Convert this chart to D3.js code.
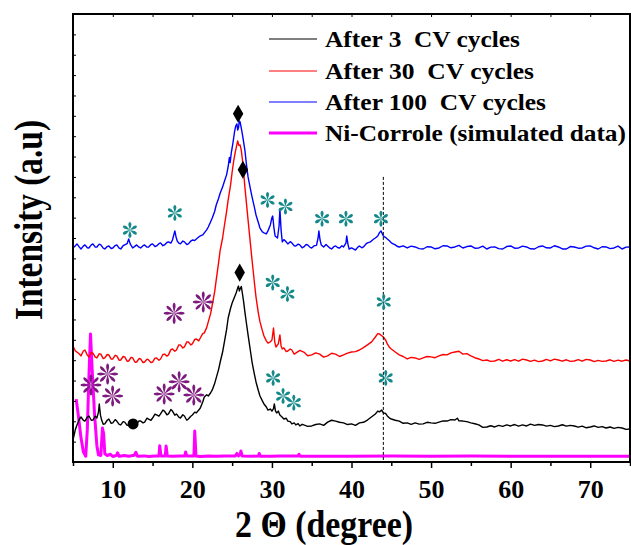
<!DOCTYPE html>
<html>
<head>
<meta charset="utf-8">
<script src="https://cdn.jsdelivr.net/npm/d3@7"></script>
<style>
  html, body { margin: 0; padding: 0; background: #fff; }
  svg { display: block; }
  text { font-family: "Liberation Serif", "Times New Roman", serif; font-weight: bold; fill: #000; }
</style>
</head>
<body>
<svg id="chart" width="631" height="545"></svg>
<script>
// ---- data: 2θ (degree) vs intensity (a.u.), stacked XRD patterns ----
const xTicksMajor = [10, 20, 30, 40, 50, 60, 70];
const xTicksMinor = [5, 15, 25, 35, 45, 55, 65, 75];

const after3 = [
  [5.0,1.08],[5.3,1.60],[5.5,1.82],[5.8,2.10],[6.0,2.21],[6.3,2.05],[6.5,2.01],[6.8,2.20],[7.0,2.26],[7.3,2.05],[7.5,2.06],[7.8,2.25],
  [8.0,2.16],[8.2,2.45],[8.3,2.85],[8.45,2.30],[8.6,2.06],[8.8,1.85],[9.0,1.87],[9.3,2.05],[9.5,2.11],[9.8,1.90],[10.0,1.92],
  [10.3,2.08],[10.5,2.01],[10.8,1.85],[11.0,1.82],[11.3,1.98],[11.5,1.96],[11.8,1.80],[12.0,1.82],[12.3,1.95],[12.5,1.92],
  [12.8,1.80],[13.0,1.87],[13.3,2.02],[13.5,2.01],[13.8,1.92],[14.0,1.96],[14.3,2.15],[14.5,2.11],[14.8,2.05],[15.0,2.16],
  [15.3,2.35],[15.5,2.31],[15.8,2.25],[16.0,2.36],[16.3,2.55],[16.5,2.50],[16.8,2.32],[17.0,2.36],[17.3,2.58],[17.5,2.50],
  [17.8,2.30],[18.0,2.36],[18.3,2.20],[18.5,2.16],[18.8,2.32],[19.0,2.26],[19.3,2.05],[19.5,2.11],[19.8,2.25],[20.0,2.31],
  [20.3,2.45],[20.5,2.41],[20.8,2.55],[21.0,2.65],[21.3,2.95],[21.5,3.19],[21.8,3.30],[22.0,3.24],[22.3,3.40],[22.5,3.54],
  [22.8,3.85],[23.0,4.13],[23.3,4.55],[23.5,4.91],[23.8,5.40],[24.0,5.84],[24.3,6.50],[24.5,7.07],[24.8,7.55],[25.0,7.81],
  [25.3,8.10],[25.5,8.30],[25.7,8.55],[25.8,8.64],[25.9,8.40],[26.0,8.50],[26.15,8.62],[26.3,8.25],[26.45,7.85],[26.6,7.37],
  [26.8,6.80],[27.0,6.24],[27.3,5.45],[27.5,4.91],[27.8,4.30],[28.0,3.93],[28.3,3.50],[28.5,3.24],[28.8,3.00],[29.0,2.85],
  [29.3,2.70],[29.5,2.55],[29.8,2.60],[30.0,2.50],[30.2,2.62],[30.3,2.85],[30.45,2.50],[30.6,2.41],[30.8,2.50],[31.0,2.31],
  [31.3,2.20],[31.5,2.11],[31.8,2.15],[32.0,2.01],[32.3,1.98],[32.5,1.87],[32.8,1.92],[33.0,1.82],[33.3,1.88],[33.5,1.77],
  [33.8,1.85],[34.0,1.82],[34.5,1.75],[35.0,1.77],[35.5,1.84],[36.0,1.87],[36.5,1.80],[37.0,1.96],[37.5,2.05],[38.0,2.01],
  [38.5,1.95],[39.0,1.92],[39.5,1.84],[40.0,1.87],[40.5,1.80],[41.0,1.92],[41.5,1.95],[42.0,2.06],[42.5,2.21],[43.0,2.36],
  [43.3,2.50],[43.5,2.46],[43.8,2.55],[44.0,2.41],[44.3,2.38],[44.5,2.26],[44.8,2.15],[45.0,2.11],[45.5,2.05],[46.0,2.01],
  [46.5,1.90],[47.0,1.92],[47.5,1.85],[48.0,1.92],[48.5,1.86],[49.0,1.87],[49.5,1.95],[50.0,1.92],[50.5,1.90],[51.0,1.96],
  [51.5,2.02],[52.0,2.01],[52.5,2.08],[53.0,2.06],[53.3,2.15],[53.5,2.02],[54.0,2.01],[54.5,1.98],[55.0,1.92],[55.5,1.88],
  [56.0,1.82],[56.5,1.70],[57.0,1.72],[57.5,1.78],[58.0,1.72],[58.5,1.80],[59.0,1.75],[59.5,1.82],[60.0,1.77],[60.5,1.84],
  [61.0,1.76],[61.5,1.82],[62.0,1.77],[62.5,1.86],[63.0,1.80],[63.5,1.84],[64.0,1.82],[64.5,1.76],[65.0,1.80],[65.5,1.74],
  [66.0,1.77],[66.5,1.83],[67.0,1.76],[67.5,1.80],[68.0,1.77],[68.5,1.71],[69.0,1.76],[69.5,1.68],[70.0,1.72],[70.5,1.77],
  [71.0,1.70],[71.5,1.74],[72.0,1.67],[72.5,1.72],[73.0,1.65],[73.5,1.70],[74.0,1.67],[74.5,1.60],[75.0,1.62]
];

const after30 = [
  [5.0,5.70],[5.3,5.45],[5.5,5.40],[5.8,5.30],[6.0,5.21],[6.3,5.45],[6.5,5.50],[6.8,5.25],[7.0,5.16],[7.3,5.38],[7.5,5.35],
  [7.8,5.15],[8.0,5.11],[8.3,5.32],[8.5,5.30],[8.8,5.08],[9.0,5.11],[9.3,5.28],[9.5,5.26],[9.8,5.05],[10.0,5.06],[10.3,5.24],
  [10.5,5.21],[10.8,5.00],[11.0,5.01],[11.3,5.18],[11.5,5.16],[11.8,4.95],[12.0,4.96],[12.3,5.14],[12.5,5.11],[12.8,4.90],
  [13.0,4.91],[13.3,5.08],[13.5,5.06],[13.8,4.88],[14.0,4.91],[14.3,5.05],[14.5,5.01],[14.8,4.88],[15.0,4.91],[15.3,5.10],
  [15.5,5.11],[15.8,5.00],[16.0,5.06],[16.3,5.28],[16.5,5.30],[16.8,5.20],[17.0,5.26],[17.3,5.52],[17.5,5.55],[17.8,5.44],
  [18.0,5.50],[18.3,5.75],[18.5,5.75],[18.8,5.60],[19.0,5.65],[19.3,5.90],[19.5,5.89],[19.8,5.75],[20.0,5.80],[20.3,6.02],
  [20.5,6.04],[20.8,5.95],[21.0,6.09],[21.3,6.30],[21.5,6.34],[21.8,6.60],[22.0,6.88],[22.3,7.30],[22.5,7.71],[22.8,8.35],
  [23.0,8.94],[23.3,9.80],[23.5,10.41],[23.8,11.00],[24.0,11.54],[24.3,12.30],[24.5,12.87],[24.8,13.60],[25.0,14.24],
  [25.2,14.80],[25.4,15.23],[25.55,15.50],[25.7,15.77],[25.85,15.55],[26.0,15.57],[26.15,15.30],[26.3,14.83],[26.45,14.20],
  [26.6,13.51],[26.8,12.70],[27.0,11.89],[27.3,10.70],[27.5,9.92],[27.8,8.80],[28.0,8.10],[28.3,7.30],[28.5,6.88],[28.8,6.45],
  [29.0,6.19],[29.3,5.95],[29.5,5.84],[29.8,5.90],[30.0,5.99],[30.2,6.58],[30.35,5.90],[30.5,5.65],[30.8,5.80],[31.0,6.24],
  [31.15,5.70],[31.3,5.55],[31.5,5.60],[31.8,5.42],[32.0,5.45],[32.3,5.55],[32.5,5.50],[32.8,5.30],[33.0,5.35],[33.5,5.48],
  [34.0,5.40],[34.5,5.22],[35.0,5.26],[35.5,5.36],[36.0,5.30],[36.5,5.15],[37.0,5.21],[37.5,5.34],[38.0,5.30],[38.5,5.18],
  [39.0,5.26],[39.5,5.35],[40.0,5.40],[40.5,5.42],[41.0,5.50],[41.5,5.62],[42.0,5.75],[42.5,5.89],[43.0,6.14],[43.3,6.30],
  [43.5,6.29],[43.8,6.20],[44.0,6.14],[44.3,5.98],[44.5,5.80],[44.8,5.62],[45.0,5.55],[45.5,5.40],[46.0,5.26],[46.5,5.18],
  [47.0,5.06],[47.5,5.14],[48.0,5.11],[48.5,5.04],[49.0,5.11],[49.5,5.18],[50.0,5.16],[50.5,5.12],[51.0,5.21],[51.5,5.28],
  [52.0,5.26],[52.5,5.36],[53.0,5.40],[53.5,5.44],[54.0,5.30],[54.5,5.32],[55.0,5.21],[55.5,5.12],[56.0,5.06],[56.5,4.98],
  [57.0,5.01],[57.5,4.94],[58.0,4.96],[58.5,5.04],[59.0,4.95],[59.5,5.02],[60.0,4.96],[60.5,5.03],[61.0,4.95],[61.5,5.05],
  [62.0,5.01],[62.5,4.94],[63.0,5.00],[63.5,4.93],[64.0,4.96],[64.5,5.04],[65.0,4.97],[65.5,5.05],[66.0,5.01],[66.5,4.95],
  [67.0,5.02],[67.5,4.94],[68.0,4.96],[68.5,5.03],[69.0,4.95],[69.5,5.04],[70.0,5.01],[70.5,4.93],[71.0,4.99],[71.5,4.94],
  [72.0,4.96],[72.5,5.02],[73.0,4.94],[73.5,5.00],[74.0,4.95],[74.5,5.01],[75.0,4.96]
];

const after100 = [
  [5.0,10.51],[5.3,10.62],[5.5,10.71],[5.8,10.55],[6.0,10.46],[6.3,10.60],[6.5,10.66],[6.8,10.52],[7.0,10.51],[7.3,10.66],
  [7.5,10.71],[7.8,10.55],[8.0,10.56],[8.3,10.70],[8.5,10.66],[8.8,10.50],[9.0,10.46],[9.3,10.58],[9.5,10.61],[9.8,10.48],
  [10.0,10.51],[10.3,10.63],[10.5,10.66],[10.8,10.50],[11.0,10.46],[11.3,10.62],[11.5,10.66],[11.8,10.72],[12.0,10.95],
  [12.2,10.70],[12.5,10.51],[12.8,10.60],[13.0,10.66],[13.3,10.55],[13.5,10.51],[13.8,10.62],[14.0,10.66],[14.3,10.55],
  [14.5,10.56],[14.8,10.68],[15.0,10.71],[15.3,10.58],[15.5,10.61],[15.8,10.72],[16.0,10.76],[16.3,10.62],[16.5,10.66],
  [16.8,10.78],[17.0,10.81],[17.3,10.75],[17.5,10.90],[17.7,11.20],[17.8,11.35],[17.95,11.05],[18.1,10.85],[18.3,10.75],
  [18.5,10.71],[18.8,10.85],[19.0,10.81],[19.3,10.68],[19.5,10.71],[19.8,10.85],[20.0,10.90],[20.3,10.88],[20.5,10.95],
  [20.8,11.05],[21.0,11.10],[21.3,11.15],[21.5,11.25],[21.8,11.40],[22.0,11.54],[22.3,11.80],[22.5,11.98],[22.8,12.30],
  [23.0,12.62],[23.3,12.95],[23.5,13.21],[23.8,13.50],[24.0,13.75],[24.3,14.10],[24.5,14.50],[24.65,14.95],[24.75,14.70],
  [24.9,15.20],[25.0,15.42],[25.15,15.80],[25.3,16.21],[25.45,16.50],[25.6,16.60],[25.7,16.30],[25.8,16.41],[25.9,16.75],
  [26.0,16.70],[26.15,16.40],[26.3,16.06],[26.45,15.70],[26.6,15.32],[26.8,14.60],[27.0,14.00],[27.3,13.40],[27.5,13.02],
  [27.8,12.50],[28.0,12.13],[28.3,11.75],[28.5,11.49],[28.8,11.30],[29.0,11.25],[29.3,11.20],[29.5,11.35],[29.8,11.64],
  [30.0,12.00],[30.1,12.08],[30.25,11.50],[30.4,11.10],[30.7,11.00],[30.9,11.60],[31.0,12.43],[31.15,11.40],[31.3,10.81],
  [31.5,10.92],[31.7,10.85],[32.0,10.71],[32.3,10.82],[32.5,10.76],[32.8,10.62],[33.0,10.61],[33.3,10.70],[33.5,10.66],
  [33.8,10.52],[34.0,10.56],[34.3,10.68],[34.5,10.66],[34.8,10.54],[35.0,10.51],[35.3,10.62],[35.6,10.64],[35.8,11.00],
  [35.9,11.35],[36.05,10.90],[36.2,10.66],[36.5,10.56],[36.8,10.68],[37.0,10.61],[37.3,10.50],[37.5,10.46],[37.8,10.58],
  [38.0,10.61],[38.3,10.52],[38.5,10.51],[38.8,10.62],[39.0,10.56],[39.3,10.75],[39.4,11.10],[39.55,10.70],[39.7,10.46],
  [40.0,10.51],[40.3,10.45],[40.5,10.41],[40.8,10.55],[41.0,10.61],[41.3,10.52],[41.5,10.56],[41.8,10.70],[42.0,10.76],
  [42.3,10.80],[42.5,10.85],[42.8,10.95],[43.0,11.00],[43.3,11.10],[43.5,11.25],[43.7,11.35],[44.0,11.10],[44.3,11.02],
  [44.5,10.95],[44.8,10.85],[45.0,10.76],[45.3,10.70],[45.5,10.66],[45.8,10.58],[46.0,10.56],[46.5,10.61],[47.0,10.51],
  [47.5,10.60],[48.0,10.56],[48.5,10.48],[49.0,10.46],[49.5,10.57],[50.0,10.56],[50.5,10.47],[51.0,10.51],[51.5,10.62],
  [52.0,10.61],[52.5,10.52],[53.0,10.56],[53.5,10.64],[54.0,10.51],[54.5,10.58],[55.0,10.61],[55.5,10.50],[56.0,10.51],
  [56.5,10.60],[57.0,10.46],[57.5,10.55],[58.0,10.56],[58.5,10.48],[59.0,10.46],[59.5,10.58],[60.0,10.61],[60.5,10.50],
  [61.0,10.51],[61.5,10.60],[62.0,10.56],[62.5,10.47],[63.0,10.46],[63.5,10.57],[64.0,10.61],[64.5,10.52],[65.0,10.51],
  [65.5,10.62],[66.0,10.56],[66.5,10.46],[67.0,10.46],[67.5,10.58],[68.0,10.56],[68.5,10.50],[69.0,10.51],[69.5,10.60],
  [70.0,10.61],[70.5,10.52],[71.0,10.46],[71.5,10.57],[72.0,10.56],[72.5,10.48],[73.0,10.51],[73.5,10.60],[74.0,10.46],
  [74.5,10.55],[75.0,10.56]
];

const niCorroleSim = [
  [5.4,3.09],[5.7,2.20],[6.0,1.20],[6.3,0.50],[6.6,0.28],[6.8,1.60],[7.0,4.20],[7.2,6.29],[7.4,4.60],[7.7,2.40],[8.0,0.80],
  [8.2,0.35],[8.5,0.32],[8.6,1.00],[8.7,1.67],[8.85,1.40],[9.0,0.40],[9.3,0.32],[9.7,0.38],[10.0,0.27],[10.5,0.33],[10.6,0.45],
  [10.8,0.28],[11.5,0.32],[12.0,0.28],[12.7,0.33],[12.9,0.48],[13.1,0.28],[14.0,0.30],[14.5,0.27],[15.3,0.30],[15.8,0.30],
  [15.9,0.80],[16.05,0.30],[16.6,0.30],[16.7,0.79],[16.85,0.30],[17.5,0.28],[18.5,0.30],[19.05,0.30],[19.15,0.49],[19.3,0.30],
  [20.2,0.30],[20.3,1.52],[20.45,0.30],[21.0,0.27],[22.0,0.30],[23.0,0.28],[24.0,0.30],[25.4,0.30],[25.6,0.42],[25.8,0.30],
  [26.0,0.36],[26.1,0.54],[26.25,0.30],[27.5,0.28],[28.3,0.30],[28.4,0.42],[28.55,0.28],[30.0,0.28],[31.0,0.30],[33.3,0.30],
  [33.4,0.38],[33.55,0.28],[36.0,0.28],[40.0,0.28],[45.0,0.29],[50.0,0.28],[55.0,0.29],[60.0,0.28],[65.0,0.28],[70.0,0.28],
  [75.0,0.28]
];

// peak markers
const graphiteMarks = [[25.95, 9.30], [26.35, 14.35], [25.75, 17.10]];      // black diamonds
const ringMarks = [[12.55, 1.87]];                                             // filled circle
const purpleMarks = [[7.26,3.78],[9.35,4.32],[9.98,3.24],[16.46,3.34],[18.34,3.94],[20.18,3.29],[17.71,7.30],[21.37,7.86]];
const tealMarks = [
  [12.15,11.39],[17.80,12.23],[29.45,12.87],[31.70,12.55],[36.30,11.95],[39.30,11.95],[43.70,11.95],
  [30.10,8.82],[31.95,8.25],[44.05,7.86],
  [30.15,4.13],[31.40,3.24],[32.75,2.91],[44.30,4.13]
];
const markerLine = 44.0;

const seriesNames = ["After 3  CV cycles", "After 30  CV cycles", "After 100  CV cycles", "Ni-Corrole (simulated data)"];
const seriesColors = ["#000000", "#ff0000", "#0000ff", "#ff00ff"];
const seriesWidths = [1.4, 1.4, 1.4, 3];

// ---- layout ----
const svg = d3.select("#chart");
const plot = { left: 73, top: 14, right: 630, bottom: 462 };

const x = d3.scaleLinear().domain([5, 75]).range([plot.left, plot.right]);
const y = d3.scaleLinear().domain([0, 22]).range([plot.bottom, plot.top]);

// clip curves to the frame
svg.append("defs").append("clipPath").attr("id", "clip")
  .append("rect").attr("x", plot.left).attr("y", plot.top)
  .attr("width", plot.right - plot.left).attr("height", plot.bottom - plot.top);

const line = d3.line().x(d => x(d[0])).y(d => y(d[1]));

const curves = svg.append("g").attr("clip-path", "url(#clip)");
const allSeries = [after3, after30, after100, niCorroleSim];
// draw simulated pattern first so the measured ones sit on top
[3, 0, 1, 2].forEach(i => {
  curves.append("path").datum(allSeries[i])
    .attr("d", line).attr("fill", "none")
    .attr("stroke", seriesColors[i]).attr("stroke-width", seriesWidths[i])
    .attr("stroke-linejoin", "round");
});

// dashed reference line at 44°
svg.append("line")
  .attr("x1", x(markerLine)).attr("x2", x(markerLine))
  .attr("y1", y(14.0)).attr("y2", y(0))
  .attr("stroke", "#000").attr("stroke-width", 1).attr("stroke-dasharray", "3,2");

// ---- axes ----
const gx = svg.append("g").attr("transform", `translate(0,${plot.bottom})`);
gx.call(d3.axisBottom(x).tickValues(xTicksMajor).tickSize(6).tickPadding(12).tickFormat(d3.format("d")));
gx.append("g").call(d3.axisBottom(x).tickValues(xTicksMinor).tickSize(4).tickFormat(""));
gx.selectAll(".domain").remove();
gx.selectAll("line").attr("stroke", "#000").attr("stroke-width", 1.5);
gx.selectAll("text").attr("font-size", 26).attr("font-family", "Liberation Serif").attr("font-weight", "bold").attr("fill", "#000");

const gTop = svg.append("g").attr("transform", `translate(0,${plot.top})`);
gTop.call(d3.axisBottom(x).tickValues(xTicksMajor.concat(xTicksMinor)).tickSize(3).tickFormat(""));
gTop.selectAll(".domain").remove();
gTop.selectAll("line").attr("stroke", "#000").attr("stroke-width", 1);

const gy = svg.append("g").attr("transform", `translate(${plot.left},0)`);
gy.call(d3.axisRight(y).ticks(22).tickSize(3).tickFormat(""));
gy.selectAll(".domain").remove();
gy.selectAll("line").attr("stroke", "#000").attr("stroke-width", 1);

// frame
svg.append("rect")
  .attr("x", plot.left).attr("y", plot.top)
  .attr("width", plot.right - plot.left).attr("height", plot.bottom - plot.top)
  .attr("fill", "none").attr("stroke", "#000").attr("stroke-width", 2);

// axis titles
svg.append("text")
  .attr("x", 235).attr("y", 537)
  .attr("font-size", 37)
  .attr("textLength", 178).attr("lengthAdjust", "spacingAndGlyphs")
  .text("2 Θ (degree)");

svg.append("text")
  .attr("transform", "translate(42,220) rotate(-90)")
  .attr("text-anchor", "middle")
  .attr("font-size", 41)
  .attr("textLength", 200).attr("lengthAdjust", "spacingAndGlyphs")
  .text("Intensity (a.u)");

// ---- markers ----
const diamond = d3.symbol().type(d3.symbolDiamond).size(95);
svg.append("g").selectAll("path").data(graphiteMarks).join("path")
  .attr("transform", d => `translate(${x(d[0])},${y(d[1])})`)
  .attr("d", diamond).attr("fill", "#000");

svg.append("g").selectAll("circle").data(ringMarks).join("circle")
  .attr("cx", d => x(d[0])).attr("cy", d => y(d[1])).attr("r", 5.5).attr("fill", "#000");

// teardrop-armed asterisk
function asteriskPath(r, arms, w) {
  let p = "";
  for (let k = 0; k < arms; k++) {
    const a = (k * Math.PI * 2) / arms - Math.PI / 2;
    const ca = Math.cos(a), sa = Math.sin(a);
    const px = -sa, py = ca;
    const tip = [ca * r, sa * r];
    const mid = [ca * r * 0.65, sa * r * 0.65];
    p += `M0,0 L${mid[0] + px * w},${mid[1] + py * w} Q${tip[0] + px * w * 0.9},${tip[1] + py * w * 0.9} ${tip[0]},${tip[1]} Q${tip[0] - px * w * 0.9},${tip[1] - py * w * 0.9} ${mid[0] - px * w},${mid[1] - py * w} Z`;
  }
  return p;
}

svg.append("g").selectAll("path").data(purpleMarks).join("path")
  .attr("transform", d => `translate(${x(d[0])},${y(d[1])})`)
  .attr("d", asteriskPath(10.5, 8, 1.5)).attr("fill", "#7d1a7d");

svg.append("g").selectAll("path").data(tealMarks).join("path")
  .attr("transform", d => `translate(${x(d[0])},${y(d[1])})`)
  .attr("d", asteriskPath(8, 6, 1.6)).attr("fill", "#15898a");

// ---- legend ----
const legendY = [39, 71, 102, 133];
const legendLen = [195, 209, 221, 301];
const legend = svg.append("g");
seriesNames.forEach((name, i) => {
  legend.append("line")
    .attr("x1", 269).attr("x2", 317).attr("y1", legendY[i]).attr("y2", legendY[i])
    .attr("stroke", seriesColors[i]).attr("stroke-width", i === 3 ? 3 : 1);
  legend.append("text")
    .attr("x", 325).attr("y", legendY[i] + 8)
    .attr("font-size", 22.5)
    .attr("xml:space", "preserve").style("white-space", "pre")
    .attr("textLength", legendLen[i]).attr("lengthAdjust", "spacingAndGlyphs")
    .text(name);
});
</script>
</body>
</html>
